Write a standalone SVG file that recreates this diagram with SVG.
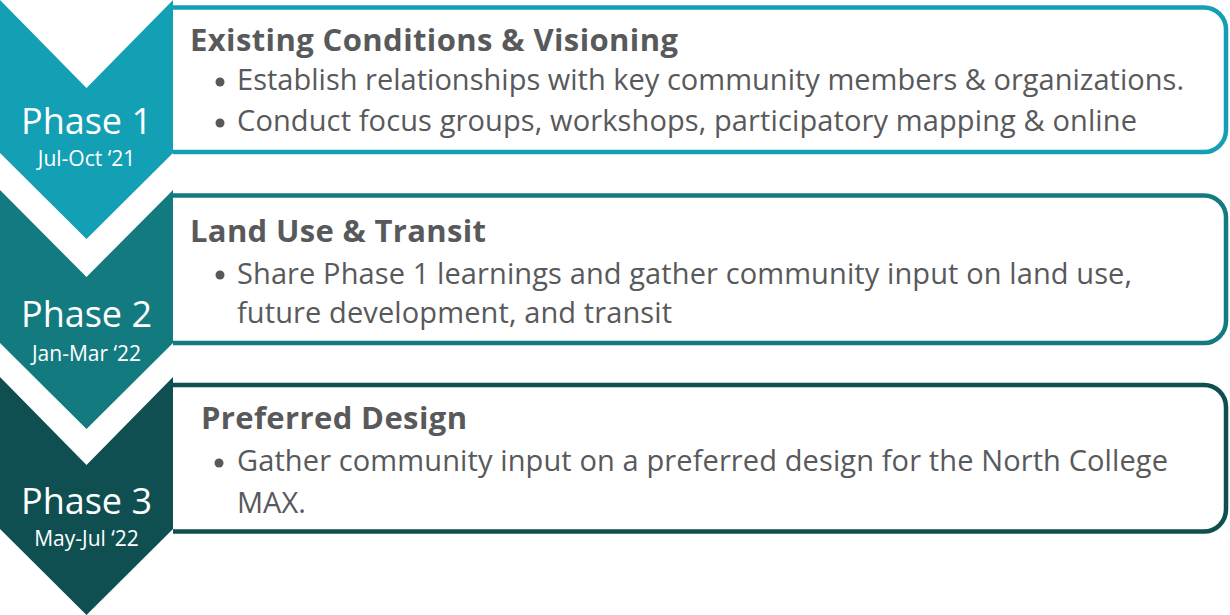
<svg xmlns="http://www.w3.org/2000/svg" width="1230" height="615" viewBox="0 0 1230 615">
  <style>
    .box { fill: #ffffff; stroke-width: 4.5; }
    .phase { font-family: "Open Sans", "Liberation Sans", sans-serif; fill: #ffffff; text-anchor: middle; }
    .big { font-size: 36px; }
    .date { font-size: 21px; }
    .title { font-family: "Open Sans", "Liberation Sans", sans-serif; font-weight: bold; font-size: 31px; fill: #58595b; }
    .item { font-family: "Open Sans", "Liberation Sans", sans-serif; font-size: 29px; fill: #58595b; }
    .dot { fill: #58595b; }
    .c1 { fill: #13a0b5; }
    .c2 { fill: #137b7f; }
    .c3 { fill: #0f4f51; }
    .s1 { stroke: #13a0b5; }
    .s2 { stroke: #137b7f; }
    .s3 { stroke: #0f4f51; }
  </style>
  <rect width="1230" height="615" fill="#ffffff"/>

  <!-- Phase 1 -->
  <g id="phase1">
    <path class="box s1" d="M173,7.5 H1204 A22,22 0 0 1 1226,29.5 V130 A22,22 0 0 1 1204,152 H173"/>
    <path class="c1" d="M0,0 L86.5,88 L173,0 L173,153 L86.5,239 L0,153 Z"/>
    <text class="phase big" x="86.5" y="134">Phase 1</text>
    <text class="phase date" x="86.5" y="166">Jul-Oct ‘21</text>
    <text class="title" x="190" y="51" textLength="488" lengthAdjust="spacing">Existing Conditions &amp; Visioning</text>
    <circle class="dot" cx="220" cy="82" r="4.5"/>
    <text class="item" x="237" y="90" textLength="947" lengthAdjust="spacing">Establish relationships with key community members &amp; organizations.</text>
    <circle class="dot" cx="220" cy="123" r="4.5"/>
    <text class="item" x="237" y="131" textLength="900" lengthAdjust="spacing">Conduct focus groups, workshops, participatory mapping &amp; online</text>
  </g>

  <!-- Phase 2 -->
  <g id="phase2">
    <path class="box s2" d="M173,195.5 H1204 A22,22 0 0 1 1226,217.5 V321 A22,22 0 0 1 1204,343 H173"/>
    <path class="c2" d="M0,190 L86.5,277 L173,190 L173,343 L86.5,429 L0,343 Z"/>
    <text class="phase big" x="86.5" y="327">Phase 2</text>
    <text class="phase date" x="86.5" y="361">Jan-Mar ‘22</text>
    <text class="title" x="190" y="242" textLength="296" lengthAdjust="spacing">Land Use &amp; Transit</text>
    <circle class="dot" cx="220" cy="275" r="4.5"/>
    <text class="item" x="237" y="284" textLength="895" lengthAdjust="spacing">Share Phase 1 learnings and gather community input on land use,</text>
    <text class="item" x="237" y="323" textLength="435" lengthAdjust="spacing">future development, and transit</text>
  </g>

  <!-- Phase 3 -->
  <g id="phase3">
    <path class="box s3" d="M173,385 H1204 A22,22 0 0 1 1226,407 V509.5 A22,22 0 0 1 1204,531.5 H173"/>
    <path class="c3" d="M0,377 L86.5,465 L173,377 L173,529 L86.5,615 L0,529 Z"/>
    <text class="phase big" x="86.5" y="514">Phase 3</text>
    <text class="phase date" x="86.5" y="546">May-Jul ‘22</text>
    <text class="title" x="201" y="429" textLength="266" lengthAdjust="spacing">Preferred Design</text>
    <circle class="dot" cx="219" cy="463" r="4.5"/>
    <text class="item" x="237" y="471" textLength="931" lengthAdjust="spacing">Gather community input on a preferred design for the North College</text>
    <text class="item" x="237" y="513">MAX.</text>
  </g>

  <g id="connectors"></g>
</svg>
